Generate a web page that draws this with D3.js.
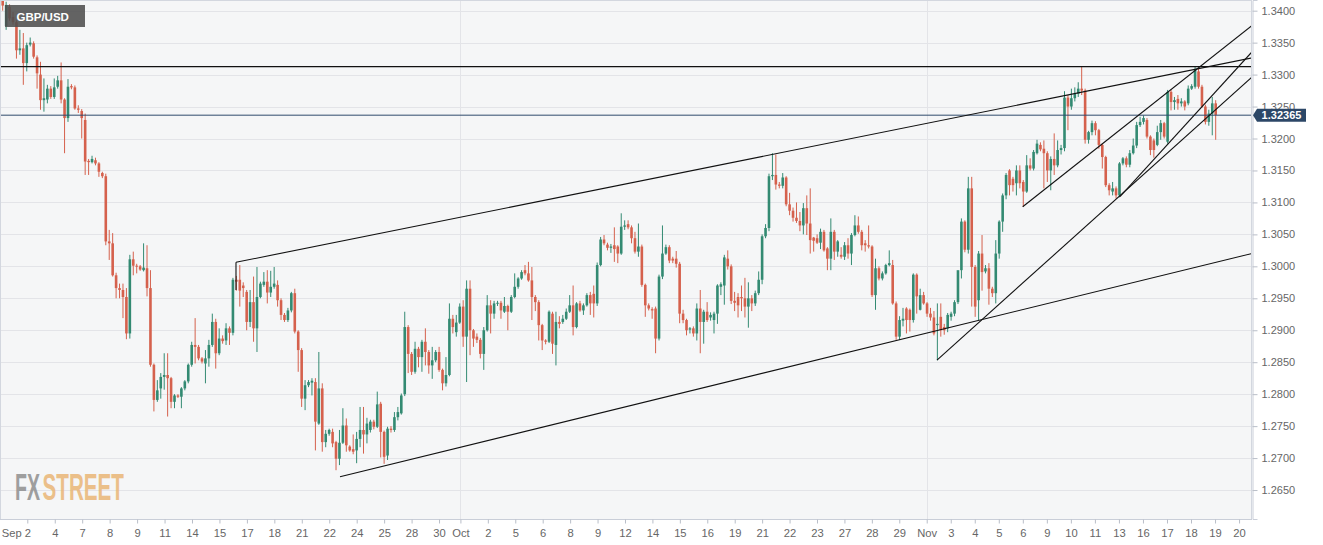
<!DOCTYPE html>
<html><head><meta charset="utf-8">
<script src="https://cdn.jsdelivr.net/npm/d3@7"></script>
<style>
html,body{margin:0;padding:0;background:#ffffff;}
svg{display:block;}
text{font-family:"Liberation Sans",Arial,sans-serif;}
</style></head><body>
<svg id="chart" width="1323" height="545"></svg>
<script>
// ---------------- DATA ----------------
// 4-hour GBP/USD candles [open, high, low, close], early Sep to Nov 19
const candles = [
[1.3418,1.3428,1.3400,1.3408],[1.3376,1.3414,1.3370,1.3409],[1.3406,1.3410,1.3384,1.3388],[1.3390,1.3398,1.3378,1.3382],
[1.3382,1.3385,1.3325,1.3338],[1.3338,1.3370,1.3331,1.3341],[1.3341,1.3365,1.3284,1.3318],[1.3318,1.3350,1.3305,1.3346],
[1.3347,1.3358,1.3344,1.3350],[1.3349,1.3352,1.3325,1.3328],[1.3327,1.3330,1.3278,1.3302],[1.3300,1.3320,1.3245,1.3260],
[1.3260,1.3294,1.3242,1.3263],[1.3261,1.3284,1.3255,1.3278],[1.3278,1.3282,1.3262,1.3265],[1.3265,1.3294,1.3262,1.3280],
[1.3281,1.3298,1.3278,1.3291],[1.3291,1.3319,1.3255,1.3261],[1.3261,1.3263,1.3177,1.3232],[1.3232,1.3293,1.3226,1.3281],
[1.3282,1.3285,1.3277,1.3280],[1.3280,1.3283,1.3245,1.3247],[1.3247,1.3252,1.3240,1.3245],[1.3243,1.3246,1.3200,1.3232],
[1.3229,1.3239,1.3143,1.3164],[1.3165,1.3168,1.3143,1.3163],[1.3163,1.3173,1.3161,1.3168],[1.3166,1.3170,1.3158,1.3161],
[1.3161,1.3163,1.3140,1.3148],[1.3146,1.3148,1.3138,1.3141],[1.3141,1.3145,1.3033,1.3039],[1.3039,1.3057,1.3010,1.3036],
[1.3036,1.3052,1.2984,1.2986],[1.2986,1.2990,1.2950,1.2966],[1.2966,1.2973,1.2950,1.2963],[1.2963,1.2973,1.2919,1.2952],
[1.2952,1.2966,1.2886,1.2895],[1.2895,1.3018,1.2887,1.3011],[1.3011,1.3023,1.2986,1.3001],[1.3001,1.3004,1.2989,1.3000],
[1.3000,1.3002,1.2993,1.2995],[1.2994,1.3036,1.2992,1.2998],[1.2997,1.3033,1.2953,1.2966],[1.2966,1.2994,1.2843,1.2846],
[1.2846,1.2848,1.2773,1.2791],[1.2791,1.2822,1.2788,1.2806],[1.2809,1.2833,1.2793,1.2827],[1.2827,1.2864,1.2807,1.2830],
[1.2830,1.2864,1.2765,1.2825],[1.2825,1.2827,1.2778,1.2788],[1.2788,1.2800,1.2778,1.2798],[1.2798,1.2800,1.2794,1.2796],
[1.2796,1.2811,1.2778,1.2809],[1.2809,1.2822,1.2806,1.2820],[1.2820,1.2848,1.2817,1.2846],[1.2846,1.2882,1.2843,1.2877],
[1.2877,1.2919,1.2848,1.2874],[1.2874,1.2877,1.2853,1.2856],[1.2856,1.2858,1.2848,1.2851],
[1.2848,1.2869,1.2817,1.2856],[1.2856,1.2885,1.2843,1.2877],[1.2877,1.2926,1.2874,1.2913],[1.2913,1.2918,1.2840,1.2864],
[1.2864,1.2903,1.2861,1.2887],[1.2887,1.2892,1.2879,1.2883],[1.2884,1.2911,1.2877,1.2903],[1.2903,1.2906,1.2877,1.2896],
[1.2896,1.2982,1.2892,1.2979],[1.2979,1.2985,1.2962,1.2976],[1.2979,1.3002,1.2937,1.2962],[1.2970,1.2975,1.2952,1.2966],
[1.2960,1.2963,1.2900,1.2913],[1.2913,1.2963,1.2905,1.2944],[1.2944,1.2984,1.2882,1.2903],[1.2903,1.2999,1.2866,1.2952],
[1.2952,1.2976,1.2950,1.2973],[1.2971,1.2991,1.2968,1.2976],[1.2976,1.2994,1.2942,1.2959],[1.2959,1.2993,1.2952,1.2968],
[1.2968,1.2999,1.2965,1.2973],[1.2971,1.2978,1.2937,1.2947],[1.2947,1.2950,1.2916,1.2924],[1.2924,1.2927,1.2913,1.2916],
[1.2916,1.2935,1.2913,1.2931],[1.2931,1.2960,1.2928,1.2958],[1.2958,1.2965,1.2895,1.2898],[1.2898,1.2900,1.2835,1.2869],
[1.2869,1.2872,1.2780,1.2793],[1.2793,1.2822,1.2775,1.2814],[1.2814,1.2822,1.2811,1.2819],[1.2818,1.2825,1.2798,1.2821],
[1.2819,1.2825,1.2712,1.2757],[1.2754,1.2866,1.2752,1.2809],[1.2809,1.2817,1.2710,1.2725],[1.2725,1.2744,1.2717,1.2738],
[1.2738,1.2746,1.2735,1.2744],[1.2741,1.2746,1.2717,1.2723],[1.2725,1.2727,1.2681,1.2699],[1.2699,1.2744,1.2689,1.2724],
[1.2724,1.2778,1.2722,1.2751],[1.2751,1.2762,1.2710,1.2720],[1.2718,1.2720,1.2710,1.2712],[1.2714,1.2737,1.2706,1.2710],
[1.2712,1.2741,1.2692,1.2730],[1.2730,1.2780,1.2717,1.2744],[1.2744,1.2780,1.2707,1.2737],[1.2737,1.2763,1.2723,1.2754],
[1.2744,1.2760,1.2740,1.2757],[1.2757,1.2760,1.2745,1.2749],[1.2749,1.2804,1.2747,1.2784],[1.2785,1.2788,1.2701,1.2741],
[1.2741,1.2743,1.2691,1.2702],[1.2704,1.2749,1.2697,1.2746],[1.2746,1.2750,1.2740,1.2744],[1.2744,1.2772,1.2741,1.2764],
[1.2764,1.2780,1.2759,1.2772],[1.2770,1.2801,1.2768,1.2798],[1.2800,1.2929,1.2797,1.2905],
[1.2905,1.2908,1.2833,1.2863],[1.2863,1.2866,1.2830,1.2835],[1.2835,1.2882,1.2832,1.2871],[1.2871,1.2874,1.2842,1.2858],
[1.2858,1.2885,1.2835,1.2882],[1.2882,1.2903,1.2845,1.2866],[1.2866,1.2869,1.2832,1.2845],[1.2845,1.2874,1.2824,1.2853],
[1.2853,1.2869,1.2850,1.2866],[1.2866,1.2874,1.2835,1.2838],[1.2838,1.2840,1.2806,1.2817],[1.2817,1.2858,1.2812,1.2830],
[1.2830,1.2942,1.2828,1.2918],[1.2918,1.2924,1.2895,1.2905],[1.2897,1.2924,1.2890,1.2912],[1.2912,1.2942,1.2910,1.2937],
[1.2937,1.2947,1.2874,1.2890],[1.2890,1.2978,1.2819,1.2965],[1.2965,1.2978,1.2861,1.2900],[1.2900,1.2902,1.2874,1.2887],
[1.2890,1.2895,1.2880,1.2885],[1.2885,1.2888,1.2856,1.2863],[1.2863,1.2905,1.2838,1.2900],[1.2900,1.2955,1.2898,1.2939],
[1.2939,1.2947,1.2895,1.2926],[1.2926,1.2946,1.2918,1.2942],[1.2942,1.2946,1.2938,1.2943],[1.2943,1.2946,1.2918,1.2931],
[1.2929,1.2952,1.2927,1.2938],[1.2938,1.2940,1.2900,1.2929],[1.2929,1.2955,1.2927,1.2952],[1.2952,1.2989,1.2950,1.2968],
[1.2968,1.2983,1.2965,1.2981],[1.2981,1.2994,1.2979,1.2991],[1.2994,1.3002,1.2986,1.2989],[1.2989,1.3007,1.2976,1.2978],
[1.2978,1.2999,1.2916,1.2952],[1.2952,1.2955,1.2930,1.2944],[1.2944,1.2947,1.2884,1.2908],[1.2908,1.2910,1.2869,1.2884],
[1.2884,1.2886,1.2878,1.2882],[1.2882,1.2931,1.2880,1.2929],[1.2926,1.2929,1.2863,1.2879],[1.2877,1.2929,1.2845,1.2913],
[1.2913,1.2922,1.2903,1.2910],[1.2913,1.2924,1.2910,1.2918],[1.2918,1.2934,1.2916,1.2929],[1.2929,1.2955,1.2927,1.2939],
[1.2939,1.2970,1.2892,1.2905],[1.2905,1.2944,1.2903,1.2942],[1.2942,1.2946,1.2929,1.2931],[1.2931,1.2942,1.2924,1.2939],
[1.2939,1.2958,1.2937,1.2955],[1.2955,1.2960,1.2924,1.2942],[1.2957,1.2970,1.2920,1.2942],[1.2942,1.3006,1.2938,1.3002],
[1.3002,1.3046,1.3000,1.3042],[1.3042,1.3049,1.3033,1.3036],
[1.3034,1.3037,1.3025,1.3029],[1.3029,1.3035,1.3021,1.3031],[1.3033,1.3061,1.3007,1.3027],[1.3031,1.3033,1.3005,1.3020],
[1.3020,1.3083,1.3018,1.3062],[1.3062,1.3072,1.3057,1.3064],[1.3066,1.3072,1.3058,1.3061],[1.3061,1.3064,1.3036,1.3044],
[1.3044,1.3054,1.3020,1.3023],[1.3023,1.3067,1.3015,1.3031],[1.3031,1.3034,1.2968,1.2971],[1.2971,1.2973,1.2921,1.2939],
[1.2939,1.2942,1.2931,1.2934],[1.2933,1.2936,1.2918,1.2931],[1.2934,1.2937,1.2864,1.2887],[1.2887,1.2987,1.2884,1.2984],
[1.2984,1.3064,1.2980,1.3020],[1.3020,1.3034,1.3018,1.3030],[1.3030,1.3033,1.3005,1.3009],[1.3012,1.3015,1.3005,1.3009],
[1.3012,1.3024,1.2998,1.3004],[1.3004,1.3007,1.2911,1.2926],[1.2926,1.2932,1.2911,1.2916],[1.2916,1.2918,1.2892,1.2900],
[1.2901,1.2905,1.2895,1.2903],[1.2903,1.2906,1.2890,1.2895],[1.2895,1.2942,1.2884,1.2934],[1.2934,1.2963,1.2864,1.2913],
[1.2913,1.2932,1.2879,1.2929],[1.2929,1.2944,1.2913,1.2916],[1.2920,1.2928,1.2915,1.2924],[1.2916,1.2929,1.2895,1.2926],
[1.2926,1.2972,1.2910,1.2970],[1.2968,1.2975,1.2955,1.2972],[1.2970,1.3018,1.2940,1.3014],[1.3012,1.3025,1.2995,1.3000],
[1.3000,1.3003,1.2941,1.2946],[1.2946,1.2960,1.2930,1.2943],[1.2952,1.2958,1.2920,1.2939],[1.2952,1.2970,1.2930,1.2950],
[1.2950,1.2982,1.2920,1.2937],[1.2937,1.2975,1.2904,1.2950],[1.2950,1.2955,1.2930,1.2942],[1.2942,1.2962,1.2938,1.2958],
[1.2958,1.2992,1.2955,1.2979],[1.2979,1.3050,1.2972,1.3047],[1.3047,1.3066,1.3044,1.3060],[1.3060,1.3145,1.3055,1.3141],
[1.3141,1.3177,1.3135,1.3143],[1.3143,1.3175,1.3120,1.3128],[1.3128,1.3132,1.3122,1.3126],[1.3126,1.3146,1.3122,1.3139],
[1.3139,1.3141,1.3094,1.3097],[1.3097,1.3115,1.3080,1.3087],[1.3087,1.3092,1.3070,1.3076],[1.3076,1.3100,1.3068,1.3071],
[1.3071,1.3085,1.3055,1.3064],[1.3064,1.3099,1.3050,1.3091],
[1.3091,1.3111,1.3049,1.3067],[1.3067,1.3122,1.3020,1.3041],[1.3045,1.3046,1.3023,1.3040],[1.3044,1.3050,1.3035,1.3037],
[1.3037,1.3059,1.3027,1.3054],[1.3054,1.3057,1.3023,1.3025],[1.3028,1.3030,1.2994,1.3012],[1.3012,1.3075,1.2994,1.3054],
[1.3054,1.3057,1.3010,1.3023],[1.3023,1.3041,1.3015,1.3039],[1.3018,1.3030,1.3012,1.3015],[1.3015,1.3038,1.3010,1.3033],
[1.3033,1.3044,1.3012,1.3020],[1.3020,1.3052,1.3002,1.3049],[1.3049,1.3080,1.3047,1.3064],[1.3064,1.3078,1.3051,1.3054],
[1.3054,1.3057,1.3025,1.3033],[1.3036,1.3041,1.3023,1.3033],[1.3033,1.3064,1.3028,1.3031],[1.3031,1.3033,1.2952,1.2955],
[1.2955,1.3012,1.2932,1.2997],[1.2997,1.3000,1.2978,1.2981],[1.2981,1.2992,1.2978,1.2989],[1.2989,1.3004,1.2987,1.3002],
[1.3002,1.3025,1.3000,1.3005],[1.3002,1.3010,1.2940,1.2942],[1.2942,1.2945,1.2885,1.2890],[1.2890,1.2922,1.2885,1.2916],
[1.2915,1.2935,1.2906,1.2918],[1.2934,1.2936,1.2895,1.2916],[1.2932,1.2934,1.2898,1.2916],[1.2916,1.2989,1.2912,1.2987],
[1.2987,1.2989,1.2926,1.2953],[1.2932,1.2965,1.2931,1.2955],[1.2955,1.2960,1.2940,1.2942],[1.2942,1.2944,1.2921,1.2926],
[1.2926,1.2935,1.2915,1.2920],[1.2920,1.2930,1.2892,1.2895],[1.2908,1.2942,1.2853,1.2910],[1.2921,1.2942,1.2890,1.2900],
[1.2905,1.2910,1.2893,1.2900],[1.2903,1.2927,1.2897,1.2924],[1.2921,1.2929,1.2915,1.2926],[1.2926,1.2947,1.2922,1.2944],
[1.2944,1.2979,1.2941,1.2994],[1.2994,1.3075,1.2981,1.3070],[1.3070,1.3072,1.3022,1.3026],[1.3026,1.3140,1.3020,1.3122],
[1.3122,1.3140,1.2937,1.2999],[1.2999,1.3002,1.2921,1.2937],[1.2947,1.3024,1.2916,1.3020],[1.3020,1.3049,1.2962,1.2991],
[1.2992,1.3002,1.2989,1.2997],[1.2997,1.3005,1.2940,1.2965],[1.2965,1.2968,1.2952,1.2958],[1.2958,1.3041,1.2942,1.3020],
[1.3020,1.3072,1.3012,1.3070],[1.3070,1.3114,1.3054,1.3111],
[1.3111,1.3146,1.3105,1.3143],[1.3150,1.3152,1.3111,1.3127],[1.3137,1.3140,1.3117,1.3127],[1.3130,1.3158,1.3111,1.3150],
[1.3150,1.3158,1.3122,1.3130],[1.3132,1.3135,1.3093,1.3117],[1.3117,1.3174,1.3115,1.3158],[1.3158,1.3169,1.3150,1.3153],
[1.3153,1.3182,1.3150,1.3179],[1.3177,1.3198,1.3175,1.3192],[1.3190,1.3194,1.3180,1.3183],[1.3184,1.3197,1.3122,1.3177],
[1.3177,1.3180,1.3132,1.3150],[1.3150,1.3172,1.3119,1.3168],[1.3168,1.3208,1.3143,1.3158],[1.3158,1.3197,1.3155,1.3182],
[1.3182,1.3190,1.3175,1.3185],[1.3185,1.3274,1.3180,1.3264],[1.3264,1.3268,1.3213,1.3250],[1.3250,1.3278,1.3245,1.3263],
[1.3263,1.3280,1.3258,1.3270],[1.3270,1.3288,1.3265,1.3278],[1.3278,1.3312,1.3268,1.3275],[1.3275,1.3278,1.3192,1.3198],
[1.3198,1.3212,1.3192,1.3210],[1.3210,1.3228,1.3205,1.3224],[1.3224,1.3227,1.3205,1.3213],[1.3213,1.3215,1.3184,1.3190],
[1.3190,1.3192,1.3153,1.3171],[1.3171,1.3173,1.3124,1.3127],[1.3127,1.3130,1.3111,1.3119],[1.3117,1.3132,1.3111,1.3122],
[1.3122,1.3125,1.3106,1.3111],[1.3111,1.3163,1.3108,1.3161],[1.3161,1.3171,1.3158,1.3169],[1.3169,1.3172,1.3155,1.3159],
[1.3159,1.3182,1.3155,1.3177],[1.3177,1.3200,1.3175,1.3189],[1.3189,1.3226,1.3185,1.3221],[1.3221,1.3234,1.3218,1.3226],
[1.3226,1.3236,1.3222,1.3232],[1.3229,1.3232,1.3200,1.3203],[1.3203,1.3205,1.3174,1.3182],[1.3197,1.3200,1.3170,1.3182],
[1.3190,1.3220,1.3188,1.3210],[1.3210,1.3229,1.3198,1.3224],[1.3224,1.3226,1.3200,1.3203],[1.3195,1.3276,1.3192,1.3273],
[1.3273,1.3276,1.3244,1.3257],[1.3257,1.3265,1.3245,1.3260],[1.3262,1.3268,1.3245,1.3255],[1.3255,1.3263,1.3250,1.3258],
[1.3258,1.3260,1.3244,1.3250],[1.3255,1.3283,1.3252,1.3278],[1.3278,1.3285,1.3276,1.3282],[1.3281,1.3312,1.3278,1.3308],
[1.3305,1.3310,1.3278,1.3281],[1.3281,1.3284,1.3248,1.3250],[1.3250,1.3253,1.3222,1.3226],[1.3226,1.3245,1.3220,1.3239],
[1.3239,1.3265,1.3205,1.3255],[1.3255,1.3260,1.3198,1.3237]
];
const priceTicks = [1.3400,1.3350,1.3300,1.3250,1.3200,1.3150,1.3100,1.3050,1.3000,1.2950,1.2900,1.2850,1.2800,1.2750,1.2700,1.2650];
const dateLabels = ["Sep 2","4","7","8","9","11","14","15","17","18","21","22","24","25","28","30","Oct",
  "2","5","6","8","9","12","14","15","16","19","21","22","23","27","28","29","Nov",
  "3","4","5","6","9","10","11","13","16","17","18","19","20"];
const monthLabels = ["Oct","Nov"];
const symbolName = "GBP/USD";
const lastPrice = 1.32365;
const resistanceLevel = 1.33124;
// trend lines: [barIndexStart, priceStart, barIndexEnd, priceEnd]
const trendLines = [
  [67.89, 1.30063, 363.6, 1.33261],
  [67.89, 1.30063, 67.89, 1.29630],
  [98.16, 1.26709, 363.6, 1.30201],
  [296.83, 1.30933, 363.6, 1.33768],
  [325.14, 1.31090, 363.6, 1.33358],
  [271.89, 1.28534, 363.6, 1.32963]
];

// ---------------- LAYOUT ----------------
const plot = {left:0, top:0, right:1252, bottom:519};
const svg = d3.select("#chart");

const x = d3.scaleLinear().domain([0, candles.length - 1]).range([2.7, 1215.7]);
const y = d3.scaleLinear().domain([1.26047, 1.34167]).range([plot.bottom, plot.top]);
// tick ordinal -> bar index (piecewise: regular spacing, month labels at month starts)
const tickPos = d3.scaleLinear().domain([0, 15, 16, 33, 46]).range([7.16, 126.98, 133.2, 268.9, 359.8]);
const tickIdx = dateLabels.map((d, i) => tickPos(i));

const green = "#338a72", red = "#d5614d";

svg.append("rect").attr("x", plot.left).attr("y", plot.top)
  .attr("width", plot.right - plot.left).attr("height", plot.bottom - plot.top)
  .attr("fill", "#f5f6f7");

svg.append("defs").append("clipPath").attr("id", "clip")
  .append("rect").attr("x", plot.left).attr("y", plot.top)
  .attr("width", plot.right - plot.left).attr("height", plot.bottom - plot.top);

// horizontal grid
svg.append("g").selectAll("line").data(priceTicks).join("line")
  .attr("x1", plot.left).attr("x2", plot.right)
  .attr("y1", d => Math.round(y(d)) + 0.5).attr("y2", d => Math.round(y(d)) + 0.5)
  .attr("stroke", "#e3e4e8").attr("stroke-width", 1);

// month vertical grid
svg.append("g").selectAll("line")
  .data(dateLabels.map((d, i) => ({d, i})).filter(o => monthLabels.includes(o.d)))
  .join("line")
  .attr("x1", o => Math.round(x(tickIdx[o.i])) + 0.5).attr("x2", o => Math.round(x(tickIdx[o.i])) + 0.5)
  .attr("y1", plot.top).attr("y2", plot.bottom)
  .attr("stroke", "#e3e4e8").attr("stroke-width", 1);

// watermark: two words scaled horizontally to fit their widths
function condensedWord(word, x0, targetW, fill) {
  const t = svg.append("text").attr("x", 0).attr("y", 0).text(word)
    .attr("font-family", "'DejaVu Sans Condensed','DejaVu Sans',sans-serif").attr("font-weight", "bold")
    .attr("font-size", 36.5).attr("fill", fill).attr("opacity", 0.85);
  const w = t.node().getComputedTextLength() || targetW;
  t.attr("transform", `translate(${x0},500) scale(${targetW / w},1)`);
}
condensedWord("FX", 15, 25, "#8f8f8f");
condensedWord("STREET", 42.5, 81.5, "#eab676");

// candles
const cg = svg.append("g").attr("clip-path", "url(#clip)");
const bw = 2.6;
cg.selectAll("line.wick").data(candles).join("line").attr("class", "wick")
  .attr("x1", (d, i) => x(i)).attr("x2", (d, i) => x(i))
  .attr("y1", d => y(d[1])).attr("y2", d => y(d[2]))
  .attr("stroke", d => d[3] >= d[0] ? green : red).attr("stroke-width", 1);
cg.selectAll("rect.body").data(candles).join("rect").attr("class", "body")
  .attr("x", (d, i) => x(i) - bw / 2).attr("width", bw)
  .attr("y", d => y(Math.max(d[0], d[3])))
  .attr("height", d => Math.max(1, Math.abs(y(d[0]) - y(d[3]))))
  .attr("fill", d => d[3] >= d[0] ? green : red);

// horizontal levels and trend lines
const lg = svg.append("g").attr("clip-path", "url(#clip)");
lg.append("line").attr("x1", plot.left).attr("x2", plot.right)
  .attr("y1", y(resistanceLevel)).attr("y2", y(resistanceLevel))
  .attr("stroke", "#111").attr("stroke-width", 1.2);
lg.append("line").attr("x1", plot.left).attr("x2", plot.right)
  .attr("y1", y(lastPrice)).attr("y2", y(lastPrice))
  .attr("stroke", "#2f4a6b").attr("stroke-width", 1);
lg.selectAll("line.trend").data(trendLines).join("line").attr("class", "trend")
  .attr("x1", d => x(d[0])).attr("y1", d => y(d[1]))
  .attr("x2", d => x(d[2])).attr("y2", d => y(d[3]))
  .attr("stroke", "#111").attr("stroke-width", 1.1);

// symbol label
svg.append("rect").attr("x", 5).attr("y", 5).attr("width", 80).attr("height", 22)
  .attr("fill", "#4f4f4f").attr("opacity", 0.88);
svg.append("text").attr("x", 16.5).attr("y", 20.5).text(symbolName)
  .attr("font-size", 11.5).attr("font-weight", "bold").attr("fill", "#ffffff");

// plot frame
svg.append("rect").attr("x", plot.left + 0.5).attr("y", plot.top + 0.5)
  .attr("width", plot.right - plot.left - 1).attr("height", plot.bottom - plot.top)
  .attr("fill", "none").attr("stroke", "#d3d7df").attr("stroke-width", 1);

// y axis (right)
const yAxis = d3.axisRight(y).tickValues(priceTicks).tickFormat(d3.format(".4f")).tickSize(5).tickPadding(4);
const gy = svg.append("g").attr("transform", `translate(${plot.right + 0.5},0)`).call(yAxis);
gy.select(".domain").attr("stroke", "#c9ced8");
gy.selectAll(".tick line").attr("stroke", "#b9bec8");
gy.selectAll(".tick text").attr("font-size", 11).attr("fill", "#666666")
  .attr("font-family", "'Liberation Sans',Arial,sans-serif");

// x axis (bottom)
const xAxis = d3.axisBottom(x).tickValues(tickIdx).tickFormat((d, i) => dateLabels[i]).tickSize(4).tickPadding(6);
const gx = svg.append("g").attr("transform", `translate(0,${plot.bottom + 0.5})`).call(xAxis);
gx.select(".domain").attr("stroke", "#c9ced8").attr("d", `M${plot.left},0H${plot.right}`);
gx.selectAll(".tick line").attr("stroke", "#b9bec8");
gx.selectAll(".tick text").attr("font-size", 11.2).attr("fill", "#666666")
  .attr("font-family", "'Liberation Sans',Arial,sans-serif");
gx.selectAll(".tick text").filter((d, i) => i === 0).attr("text-anchor", "end").attr("dx", 3.2);

// last price tag (covers part of the 1.3250 label, as in the original)
const ly = y(lastPrice);
svg.append("path")
  .attr("d", `M${plot.right + 1},${ly} L${plot.right + 5},${ly - 6.5} H${plot.right + 54} V${ly + 6.5} H${plot.right + 5} Z`)
  .attr("fill", "#2c4767");
svg.append("text").attr("x", plot.right + 29.5).attr("y", ly + 4).attr("text-anchor", "middle")
  .text(d3.format(".5f")(lastPrice))
  .attr("font-size", 11).attr("font-weight", "bold").attr("fill", "#ffffff");
</script>
</body></html>
